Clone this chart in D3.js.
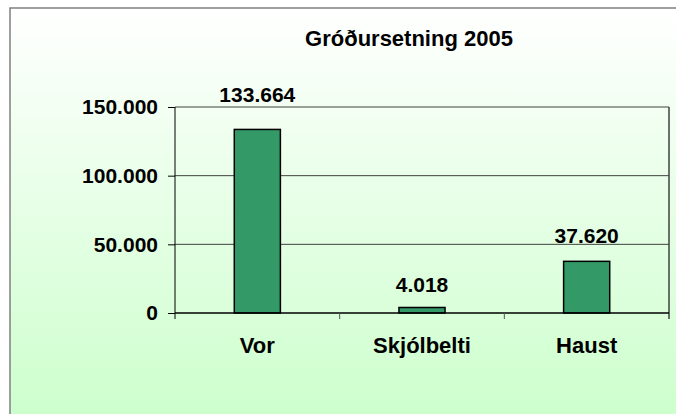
<!DOCTYPE html>
<html><head><meta charset="utf-8">
<script src="https://cdn.jsdelivr.net/npm/d3@7"></script>
<style>html,body{margin:0;padding:0;overflow:hidden;background:#fff}</style>
</head><body>
<script>
const title = "Gróðursetning 2005";
const categories = ["Vor", "Skjólbelti", "Haust"];
const values = [133664, 4018, 37620];
const valueLabels = ["133.664", "4.018", "37.620"];
const yTicks = [0, 50000, 100000, 150000];
const yTickLabels = ["0", "50.000", "100.000", "150.000"];

const W = 676, H = 414;
const svg = d3.select("body").append("svg").attr("width", W).attr("height", H);
const defs = svg.append("defs");
const grad = defs.append("linearGradient").attr("id","bg").attr("x1",0).attr("y1",0).attr("x2",0).attr("y2",1);
grad.append("stop").attr("offset","0%").attr("stop-color","#ffffff");
grad.append("stop").attr("offset","100%").attr("stop-color","#ccffcc");
svg.append("rect").attr("width",W).attr("height",H).attr("fill","#fff");
svg.append("rect").attr("x",10).attr("y",8).attr("width",W).attr("height",H)
  .attr("fill","url(#bg)").attr("stroke","#808080").attr("stroke-width",1.5);

const font = "'Liberation Sans', Arial, sans-serif";
const L = 175, R = 669, T = 107, B = 313;
const x = d3.scaleBand().domain(categories).range([L, R]).padding(0);
const y = d3.scaleLinear().domain([0, 150000]).range([B, T]);

// gridlines
svg.append("g").selectAll("line").data(yTicks.slice(1)).join("line")
  .attr("x1", L).attr("x2", R).attr("y1", d => y(d)).attr("y2", d => y(d))
  .attr("stroke", "#404040").attr("stroke-width", 1);
// right border
svg.append("line").attr("x1",R).attr("x2",R).attr("y1",T).attr("y2",B+6)
  .attr("stroke","#404040").attr("stroke-width",1.5);

// bars
const bw = x.bandwidth() * 0.28;
svg.append("g").selectAll("rect").data(values).join("rect")
  .attr("x", (d,i) => x(categories[i]) + x.bandwidth()/2 - bw/2)
  .attr("y", d => y(d)).attr("width", bw).attr("height", d => B - y(d))
  .attr("fill", "#339966").attr("stroke", "#000").attr("stroke-width", 1.5);

// y axis
const yAxis = d3.axisLeft(y).tickValues(yTicks).tickSize(7).tickFormat((d,i) => yTickLabels[i]);
const ga = svg.append("g").attr("transform", `translate(${L},0)`).call(yAxis);
ga.select(".domain").remove();
ga.append("line").attr("x1",0).attr("x2",0).attr("y1",T).attr("y2",B+6).attr("stroke","#000");
ga.selectAll(".tick line").attr("stroke","#000");
ga.selectAll(".tick text").attr("x",-17).attr("font-family",font).attr("font-weight","bold")
  .attr("font-size",21).attr("fill","#000");

// x axis
const xAxis = d3.axisBottom(x).tickSize(0).tickPadding(0);
const gx = svg.append("g").attr("transform", `translate(0,${B})`).call(xAxis);
gx.select(".domain").remove();
gx.append("line").attr("x1",L).attr("x2",R).attr("y1",0).attr("y2",0).attr("stroke","#000").attr("stroke-width",1.5);
gx.selectAll(".tick text").attr("dy",null).attr("y",40).attr("font-family",font).attr("font-weight","bold")
  .attr("font-size",22).attr("fill","#000");
// category boundary ticks
gx.append("g").selectAll("line").data(categories.slice(1)).join("line")
  .attr("x1", d => x(d)).attr("x2", d => x(d)).attr("y1",0).attr("y2",6).attr("stroke","#555");

// value labels
svg.append("g").selectAll("text").data(values).join("text")
  .attr("x", (d,i) => x(categories[i]) + x.bandwidth()/2)
  .attr("y", d => y(d) - 15 - 0.07 * (B - y(d)))
  .attr("text-anchor","middle").attr("font-family",font).attr("font-weight","bold")
  .attr("font-size",21).text((d,i) => valueLabels[i]);

// title
svg.append("text").attr("x", 409).attr("y", 46).attr("text-anchor","middle")
  .attr("font-family",font).attr("font-weight","bold").attr("font-size",22).text(title);
</script>
</body></html>
